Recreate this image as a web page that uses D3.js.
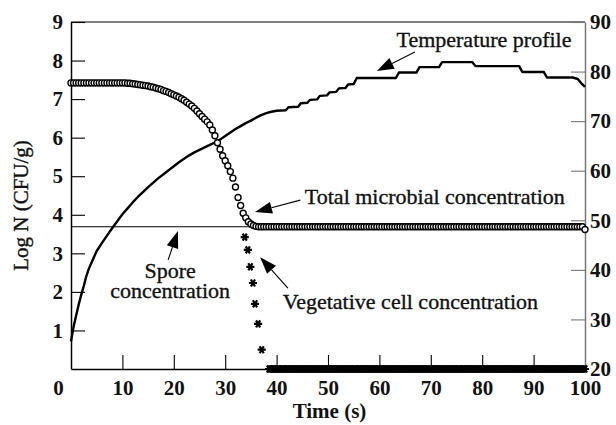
<!DOCTYPE html>
<html>
<head>
<meta charset="utf-8">
<script src="https://cdn.jsdelivr.net/npm/d3@7"></script>
<style>
  body { margin: 0; background: #fff; }
  svg { display: block; }
</style>
</head>
<body>
<div id="chart"></div>
<script>
// ---- data ----
var timeTicks = [0, 10, 20, 30, 40, 50, 60, 70, 80, 90, 100];
var logTicks = [1, 2, 3, 4, 5, 6, 7, 8, 9];
var tempTicks = [20, 30, 40, 50, 60, 70, 80, 90];

// temperature profile (s, deg C) - right axis
var tempTime = [0, 0.5, 1, 1.5, 2, 2.5, 3, 3.5, 4, 5, 6, 7, 8, 9, 10, 11, 12, 13, 14, 15,
  16, 17, 18, 19, 20, 21, 22, 23, 24, 25, 26, 27, 28, 29, 30, 31, 32, 33, 34, 35,
  36, 37, 38, 39, 40, 41.8, 42.3, 44.2, 44.7, 46.0, 46.5, 47.9, 48.4, 49.8, 50.3, 51.6,
  52.1, 53.4, 53.9, 55.0, 55.6, 63.2, 63.8, 67.2, 67.8, 71.6, 72.2, 78.1, 78.7, 87.2,
  87.8, 92.0, 92.6, 97.6, 98.6, 99.4, 100];
var tempC = [25.6, 28.5, 30.8, 33.0, 35.0, 36.8, 38.8, 40.3, 41.5, 43.8, 45.4, 46.9, 48.4, 49.8, 51.2, 52.4, 53.6, 54.7, 55.7, 56.7,
  57.6, 58.5, 59.3, 60.1, 60.9, 61.7, 62.4, 63.1, 63.7, 64.2, 64.7, 65.2, 65.7, 66.3, 67.0, 67.7, 68.4, 69.0, 69.6, 70.1,
  70.7, 71.2, 71.6, 71.9, 72.1, 72.2, 72.8, 72.9, 73.6, 73.7, 74.3, 74.4, 75.1, 75.2, 75.8, 75.9,
  76.6, 76.7, 77.4, 77.5, 78.7, 78.7, 79.8, 79.8, 80.9, 80.9, 81.9, 81.9, 81.1, 81.1,
  79.9, 79.9, 78.8, 78.8, 78.5, 77.5, 76.9];

// total microbial concentration, sampled every 0.5 s from 0 to 100 s
var totalStep = 0.5;
var totalLogN = [
  7.42, 7.42, 7.42, 7.42, 7.42, 7.42, 7.42, 7.42, 7.42, 7.42,
  7.42, 7.42, 7.42, 7.42, 7.42, 7.42, 7.42, 7.42, 7.42, 7.42,
  7.42, 7.42, 7.41, 7.41, 7.40, 7.39, 7.38, 7.37, 7.36, 7.35,
  7.34, 7.32, 7.31, 7.29, 7.27, 7.25, 7.22, 7.20, 7.17, 7.14,
  7.11, 7.08, 7.05, 7.01, 6.97, 6.92, 6.87, 6.82, 6.76, 6.69,
  6.62, 6.55, 6.48, 6.41, 6.33, 6.20, 6.05, 5.87, 5.70, 5.53,
  5.40, 5.27, 5.12, 4.95, 4.72, 4.45, 4.24, 4.04, 3.92, 3.82,
  3.76, 3.72, 3.70, 3.69, 3.69, 3.69, 3.69, 3.69, 3.69, 3.69,
  3.69, 3.69, 3.69, 3.69, 3.69, 3.69, 3.69, 3.69, 3.69, 3.69,
  3.69, 3.69, 3.69, 3.69, 3.69, 3.69, 3.69, 3.69, 3.69, 3.69,
  3.69, 3.69, 3.69, 3.69, 3.69, 3.69, 3.69, 3.69, 3.69, 3.69,
  3.69, 3.69, 3.69, 3.69, 3.69, 3.69, 3.69, 3.69, 3.69, 3.69,
  3.69, 3.69, 3.69, 3.69, 3.69, 3.69, 3.69, 3.69, 3.69, 3.69,
  3.69, 3.69, 3.69, 3.69, 3.69, 3.69, 3.69, 3.69, 3.69, 3.69,
  3.69, 3.69, 3.69, 3.69, 3.69, 3.69, 3.69, 3.69, 3.69, 3.69,
  3.69, 3.69, 3.69, 3.69, 3.69, 3.69, 3.69, 3.69, 3.69, 3.69,
  3.69, 3.69, 3.69, 3.69, 3.69, 3.69, 3.69, 3.69, 3.69, 3.69,
  3.69, 3.69, 3.69, 3.69, 3.69, 3.69, 3.69, 3.69, 3.69, 3.69,
  3.69, 3.69, 3.69, 3.69, 3.69, 3.69, 3.69, 3.69, 3.69, 3.69,
  3.69, 3.69, 3.69, 3.69, 3.69, 3.69, 3.69, 3.69, 3.69, 3.69,
  3.62];

// vegetative cells: the falling points, then zero every 0.25 s from 38.5 s
var vegTime = [33.8, 34.4, 34.9, 35.4, 35.8, 36.4, 37.1];
var vegLogN = [3.42, 3.09, 2.65, 2.23, 1.69, 1.17, 0.50];
var vegZeroStart = 38.5,
    vegZeroStep = 0.25;
var vegZeroLogN = [
  0, 0, 0, 0, 0, 0, 0, 0, 0, 0, 0, 0, 0, 0, 0, 0, 0, 0, 0, 0,
  0, 0, 0, 0, 0, 0, 0, 0, 0, 0, 0, 0, 0, 0, 0, 0, 0, 0, 0, 0,
  0, 0, 0, 0, 0, 0, 0, 0, 0, 0, 0, 0, 0, 0, 0, 0, 0, 0, 0, 0,
  0, 0, 0, 0, 0, 0, 0, 0, 0, 0, 0, 0, 0, 0, 0, 0, 0, 0, 0, 0,
  0, 0, 0, 0, 0, 0, 0, 0, 0, 0, 0, 0, 0, 0, 0, 0, 0, 0, 0, 0,
  0, 0, 0, 0, 0, 0, 0, 0, 0, 0, 0, 0, 0, 0, 0, 0, 0, 0, 0, 0,
  0, 0, 0, 0, 0, 0, 0, 0, 0, 0, 0, 0, 0, 0, 0, 0, 0, 0, 0, 0,
  0, 0, 0, 0, 0, 0, 0, 0, 0, 0, 0, 0, 0, 0, 0, 0, 0, 0, 0, 0,
  0, 0, 0, 0, 0, 0, 0, 0, 0, 0, 0, 0, 0, 0, 0, 0, 0, 0, 0, 0,
  0, 0, 0, 0, 0, 0, 0, 0, 0, 0, 0, 0, 0, 0, 0, 0, 0, 0, 0, 0,
  0, 0, 0, 0, 0, 0, 0, 0, 0, 0, 0, 0, 0, 0, 0, 0, 0, 0, 0, 0,
  0, 0, 0, 0, 0, 0, 0, 0, 0, 0, 0, 0, 0, 0, 0, 0, 0, 0, 0, 0,
  0, 0, 0, 0, 0, 0, 0];

// spore concentration (constant line)
var sporeTime = [0, 100];
var sporeLogN = [3.69, 3.69];

// annotations, in data units (time, log N)
var notes = [
  {lines: ["Temperature profile"], x: 80.35, y: 8.35, anchor: "middle", tail: [66.9, 8.22], tip: [59.5, 7.73]},
  {lines: ["Total microbial concentration"], x: 45.5, y: 4.28, anchor: "start", tail: [44.6, 4.38], tip: [35.8, 4.07]},
  {lines: ["Spore", "concentration"], x: 19.3, y: 2.36, anchor: "middle", tail: [18.9, 2.83], tip: [20.8, 3.58]},
  {lines: ["Vegetative cell concentration"], x: 41.2, y: 1.56, anchor: "start", tail: [42.2, 2.10], tip: [36.8, 2.90]}
];

// ---- chart ----
var width = 616,
    height = 425;
var plotLeft = 71, plotRight = 585, plotTop = 22, plotBottom = 369;
var fontFam = "'Liberation Serif', 'Times New Roman', serif";

var svg = d3.select("#chart").append("svg")
  .attr("width", width)
  .attr("height", height);

var x = d3.scaleLinear().domain([0, 100]).range([plotLeft, plotRight]);
var yL = d3.scaleLinear().domain([0, 9]).range([plotBottom, plotTop]);
var yR = d3.scaleLinear().domain([20, 90]).range([plotBottom, plotTop]);

// top frame line
svg.append("line")
  .attr("x1", plotLeft).attr("x2", plotRight)
  .attr("y1", plotTop).attr("y2", plotTop)
  .attr("stroke", "#000").attr("stroke-width", 1.2);

// left axis
var gL = svg.append("g")
  .attr("transform", "translate(" + plotLeft + ",0)")
  .call(d3.axisLeft(yL).tickValues(logTicks).tickSize(-14).tickSizeOuter(0).tickPadding(8));

// bottom axis
var gB = svg.append("g")
  .attr("transform", "translate(0," + plotBottom + ")")
  .call(d3.axisBottom(x).tickValues(timeTicks).tickSize(-14).tickSizeOuter(0).tickPadding(11));
gB.selectAll(".tick text").attr("x", function(d) { return d == 0 ? -13 : 0; });

// right axis
var gR = svg.append("g")
  .attr("transform", "translate(" + plotRight + ",0)")
  .call(d3.axisRight(yR).tickValues(tempTicks).tickSize(-14).tickSizeOuter(0).tickPadding(5));

[gL, gB, gR].forEach(function(g) {
  g.selectAll("text")
    .attr("font-family", fontFam)
    .attr("font-size", 21)
    .attr("font-weight", "bold")
    .attr("fill", "#111");
  g.select(".domain").attr("stroke-width", 1.5);
  g.selectAll(".tick line").attr("stroke-width", 1.1);
});
gL.selectAll(".domain, .tick line").attr("stroke", "#000");
gB.selectAll(".domain, .tick line").attr("stroke", "#000");
gR.selectAll(".domain, .tick line").attr("stroke", "#777");
gB.selectAll(".tick").filter(function(d) { return d == 0 || d == 100; }).select("line").remove();

// axis titles
svg.append("text")
  .attr("transform", "translate(28," + ((plotTop + plotBottom) / 2 + 10) + ") rotate(-90)")
  .attr("text-anchor", "middle")
  .attr("font-family", fontFam)
  .attr("font-size", 21)
  .attr("fill", "#111")
  .attr("stroke", "#111")
  .attr("stroke-width", 0.4)
  .text("Log N (CFU/g)");

svg.append("text")
  .attr("x", 329.5)
  .attr("y", 418)
  .attr("text-anchor", "middle")
  .attr("font-family", fontFam)
  .attr("font-size", 21)
  .attr("font-weight", "bold")
  .attr("fill", "#111")
  .text("Time (s)");

// spore line
var sporeData = sporeTime.map(function(t, i) { return {t: t, v: sporeLogN[i]}; });
svg.append("path")
  .datum(sporeData)
  .attr("fill", "none")
  .attr("stroke", "#000")
  .attr("stroke-width", 1.1)
  .attr("d", d3.line().x(function(d) { return x(d.t); }).y(function(d) { return yL(d.v); }));

// temperature profile
var tempData = tempTime.map(function(t, i) { return {t: t, v: tempC[i]}; });
svg.append("path")
  .datum(tempData)
  .attr("fill", "none")
  .attr("stroke", "#000")
  .attr("stroke-width", 2.4)
  .attr("stroke-linejoin", "round")
  .attr("d", d3.line().x(function(d) { return x(d.t); }).y(function(d) { return yR(d.v); }));

// total microbial concentration - open circles
var totalData = totalLogN.map(function(v, i) { return {t: i * totalStep, v: v}; });
svg.append("g")
  .selectAll("circle")
  .data(totalData)
  .enter().append("circle")
  .attr("cx", function(d) { return x(d.t); })
  .attr("cy", function(d) { return yL(d.v); })
  .attr("r", 3)
  .attr("fill", "#fff")
  .attr("stroke", "#000")
  .attr("stroke-width", 1.4);

// vegetative cells - asterisks
var vegData = vegTime.map(function(t, i) { return {t: t, v: vegLogN[i]}; })
  .concat(vegZeroLogN.map(function(v, i) { return {t: vegZeroStart + i * vegZeroStep, v: v}; }));
var star = d3.symbol().type(d3.symbolAsterisk).size(46);
svg.append("g")
  .selectAll("path")
  .data(vegData)
  .enter().append("path")
  .attr("d", star)
  .attr("transform", function(d) { return "translate(" + x(d.t) + "," + yL(d.v) + ") rotate(90)"; })
  .attr("fill", "none")
  .attr("stroke", "#000")
  .attr("stroke-width", 2.2);

// annotations with arrows
function arrow(tail, tip) {
  var x1 = x(tail[0]), y1 = yL(tail[1]), x2 = x(tip[0]), y2 = yL(tip[1]);
  var ang = Math.atan2(y2 - y1, x2 - x1);
  var len = 17, half = 6;
  var bx = x2 - len * Math.cos(ang), by = y2 - len * Math.sin(ang);
  svg.append("line")
    .attr("x1", x1).attr("y1", y1).attr("x2", bx).attr("y2", by)
    .attr("stroke", "#000").attr("stroke-width", 1.1);
  var p1 = [bx + half * Math.sin(ang), by - half * Math.cos(ang)];
  var p2 = [bx - half * Math.sin(ang), by + half * Math.cos(ang)];
  svg.append("path")
    .attr("d", "M" + x2 + "," + y2 + "L" + p1.join(",") + "L" + p2.join(",") + "Z")
    .attr("fill", "#000");
}

notes.forEach(function(n) {
  var txt = svg.append("text")
    .attr("x", x(n.x))
    .attr("y", yL(n.y))
    .attr("text-anchor", n.anchor)
    .attr("font-family", fontFam)
    .attr("font-size", 22)
    .attr("fill", "#111")
    .attr("stroke", "#111")
    .attr("stroke-width", 0.35);
  n.lines.forEach(function(l, i) {
    txt.append("tspan")
      .attr("x", x(n.x))
      .attr("dy", i == 0 ? 0 : 20)
      .text(l);
  });
  arrow(n.tail, n.tip);
});
</script>
</body>
</html>
